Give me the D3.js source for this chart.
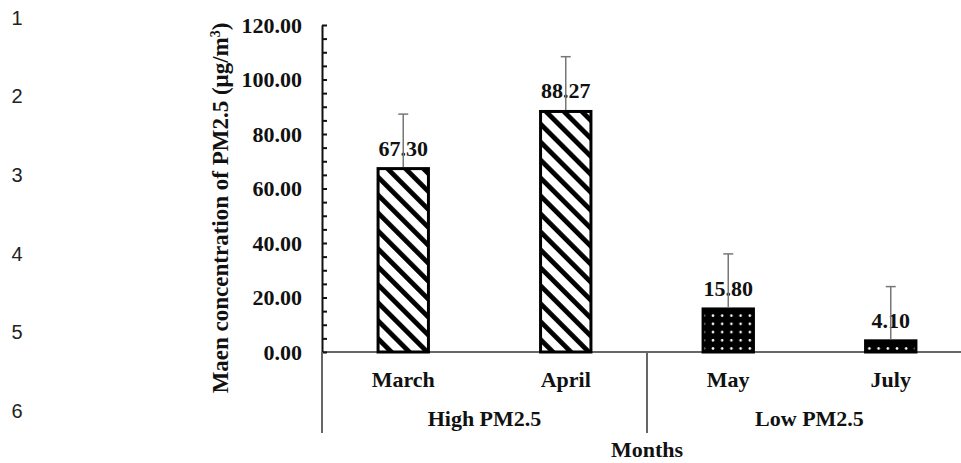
<!DOCTYPE html>
<html>
<head>
<meta charset="utf-8">
<script src="https://cdn.jsdelivr.net/npm/d3@7/dist/d3.min.js"></script>
<style>
  html, body { margin: 0; padding: 0; background: #fff; }
  svg { display: block; }
</style>
</head>
<body>
<script>
// ---- Data ----
const months = ["March", "April", "May", "July"];
const meanValues = [67.30, 88.27, 15.80, 4.10];
const sdValues = [20.0, 20.1, 20.2, 19.9];
const monthGroup = ["High PM2.5", "High PM2.5", "Low PM2.5", "Low PM2.5"];
const groupNames = ["High PM2.5", "Low PM2.5"];
const yTickValues = [0, 20, 40, 60, 80, 100, 120];
const yMinorStep = 5;
const lineNumbers = ["1", "2", "3", "4", "5", "6"];

const W = 961, H = 463;
const serif = "'Liberation Serif', 'Times New Roman', serif";
const fs = 22;

const svg = d3.select("body").append("svg")
  .attr("width", W).attr("height", H)
  .attr("viewBox", `0 0 ${W} ${H}`);

// patterns
const defs = svg.append("defs");
const stripe = defs.append("pattern")
  .attr("id", "stripes")
  .attr("patternUnits", "userSpaceOnUse")
  .attr("width", 12.7).attr("height", 12.7)
  .attr("patternTransform", "rotate(-45)");
stripe.append("rect").attr("width", 12.7).attr("height", 12.7).attr("fill", "#fff");
stripe.append("rect").attr("x", 0).attr("width", 4.8).attr("height", 12.7).attr("fill", "#000");

const dots = defs.append("pattern")
  .attr("id", "dots")
  .attr("patternUnits", "userSpaceOnUse")
  .attr("width", 9.2).attr("height", 8.2);
dots.append("rect").attr("width", 9.2).attr("height", 8.2).attr("fill", "#000");
dots.append("circle").attr("cx", 4.6).attr("cy", 4.1).attr("r", 1.3).attr("fill", "#fff");

// scales
const x = d3.scaleBand().domain(months).range([322, 972])
  .paddingInner(0.69).paddingOuter(0.345);
const y = d3.scaleLinear().domain([0, 120]).range([352, 25]);

const data = months.map((m, i) => ({ month: m, mean: meanValues[i], sd: sdValues[i], group: monthGroup[i] }));

// line numbers on the left
svg.append("g").selectAll("text").data(lineNumbers).join("text")
  .attr("x", 17)
  .attr("y", (d, i) => 17.5 + i * 78.6)
  .attr("dy", "0.36em")
  .attr("text-anchor", "middle")
  .attr("font-family", "'Liberation Sans', Arial, sans-serif")
  .attr("font-size", 20)
  .attr("fill", "#222")
  .text(d => d);

// x axis baseline (drawn under the bars)
svg.append("line")
  .attr("x1", 322).attr("x2", W).attr("y1", y(0)).attr("y2", y(0))
  .attr("stroke", "#666").attr("stroke-width", 2);

// bars
svg.append("g").selectAll("rect").data(data).join("rect")
  .attr("x", d => x(d.month))
  .attr("y", d => y(d.mean))
  .attr("width", x.bandwidth())
  .attr("height", d => y(0) - y(d.mean))
  .attr("fill", d => d.group === groupNames[0] ? "url(#stripes)" : "url(#dots)")
  .attr("stroke", "#000")
  .attr("stroke-width", 3);

// y axis
const yAxis = d3.axisLeft(y)
  .tickValues(d3.range(0, 120 + 0.001, yMinorStep))
  .tickSizeInner(-5)
  .tickSizeOuter(0)
  .tickPadding(20)
  .tickFormat(d => yTickValues.includes(d) ? d3.format(".2f")(d) : "");
const gy = svg.append("g").attr("transform", `translate(${322},0)`).call(yAxis);
gy.select(".domain").attr("stroke", "#111").attr("stroke-width", 2);
gy.selectAll(".tick line").attr("stroke", "#111").attr("stroke-width", 2);
gy.selectAll(".tick text")
  .attr("font-family", serif).attr("font-size", fs).attr("font-weight", "bold").attr("fill", "#111");

// group separators
const step = x.step();
const boundaries = [x.range()[0]];
groupNames.forEach((g, gi) => {
  if (gi === 0) return;
  const firstIdx = monthGroup.indexOf(g);
  boundaries.push(x(months[firstIdx]) - step * x.paddingInner() / 2);
});
svg.append("g").selectAll("line").data(boundaries).join("line")
  .attr("x1", d => d).attr("x2", d => d)
  .attr("y1", y(0)).attr("y2", 433)
  .attr("stroke", "#666").attr("stroke-width", 2);

// month labels
svg.append("g").selectAll("text").data(data).join("text")
  .attr("x", d => x(d.month) + x.bandwidth() / 2)
  .attr("y", 387)
  .attr("text-anchor", "middle")
  .attr("font-family", serif).attr("font-size", fs).attr("font-weight", "bold").attr("fill", "#111")
  .text(d => d.month);

// group labels
svg.append("g").selectAll("text").data(groupNames).join("text")
  .attr("x", g => {
    const ms = months.filter((m, i) => monthGroup[i] === g);
    return (x(ms[0]) + x(ms[ms.length - 1]) + x.bandwidth()) / 2;
  })
  .attr("y", 426)
  .attr("text-anchor", "middle")
  .attr("font-family", serif).attr("font-size", fs).attr("font-weight", "bold").attr("fill", "#111")
  .text(g => g);

// axis title
svg.append("text")
  .attr("x", (x.range()[0] + x.range()[1]) / 2)
  .attr("y", 457)
  .attr("text-anchor", "middle")
  .attr("font-family", serif).attr("font-size", fs).attr("font-weight", "bold").attr("fill", "#111")
  .text("Months");

const yt = svg.append("text")
  .attr("transform", `translate(228,208) rotate(-90)`)
  .attr("text-anchor", "middle")
  .attr("font-family", serif).attr("font-size", 23).attr("font-weight", "bold").attr("fill", "#111");
yt.append("tspan").text("Maen concentration of PM2.5 (μg/m");
yt.append("tspan").attr("font-size", 14).attr("dy", -8).text("3");
yt.append("tspan").attr("dy", 8).text(")");

// value labels
svg.append("g").selectAll("text").data(data).join("text")
  .attr("x", d => x(d.month) + x.bandwidth() / 2)
  .attr("y", d => y(d.mean) - 13)
  .attr("text-anchor", "middle")
  .attr("font-family", serif).attr("font-size", fs).attr("font-weight", "bold").attr("fill", "#111")
  .text(d => d3.format(".2f")(d.mean));

// error bars (upper only)
const eb = svg.append("g").attr("stroke", "#777").attr("stroke-width", 1.5);
eb.selectAll("line.v").data(data).join("line").attr("class", "v")
  .attr("x1", d => x(d.month) + x.bandwidth() / 2)
  .attr("x2", d => x(d.month) + x.bandwidth() / 2)
  .attr("y1", d => y(d.mean) - 1.5)
  .attr("y2", d => y(d.mean + d.sd));
eb.selectAll("line.c").data(data).join("line").attr("class", "c")
  .attr("x1", d => x(d.month) + x.bandwidth() / 2 - 5)
  .attr("x2", d => x(d.month) + x.bandwidth() / 2 + 5)
  .attr("y1", d => y(d.mean + d.sd))
  .attr("y2", d => y(d.mean + d.sd));
</script>
</body>
</html>
